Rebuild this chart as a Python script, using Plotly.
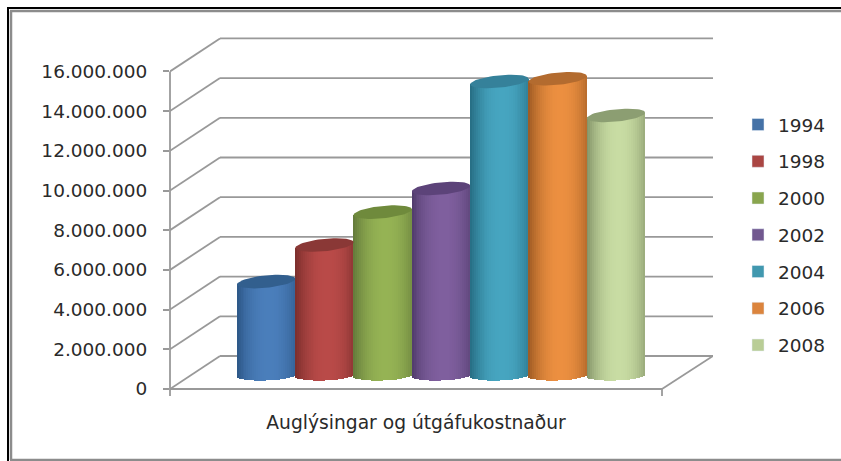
import plotly.graph_objects as go
import math

# ---- data ----
years = ["1994", "1998", "2000", "2002", "2004", "2006", "2008"]
values = [4580000, 6420000, 8080000, 9270000, 14660000, 14800000, 12950000]
tick_values = [0, 2000000, 4000000, 6000000, 8000000, 10000000, 12000000, 14000000, 16000000]
tick_labels = ["0", "2.000.000", "4.000.000", "6.000.000", "8.000.000", "10.000.000",
               "12.000.000", "14.000.000", "16.000.000"]
category = "Auglýsingar og útgáfukostnaður"

# ---- style ----
legend_colors = ["#4572A7", "#AA4643", "#89A54E", "#71588F", "#4198AF", "#DB843D", "#B9CD96"]
center_colors = ["#4A7EBB", "#B94A48", "#95B354", "#7F5F9E", "#46A5C0", "#EC8F40", "#C8DCA3"]
edge_colors = ["#2C5686", "#7A2E2C", "#63793A", "#503B6C", "#266C82", "#9A5822", "#7F8F64"]
top_colors = ["#325F8E", "#8A3836", "#6F8A3C", "#5C4379", "#35819A", "#B36B2F", "#8C9E72"]
grid = "#999999"
text_col = "#2A2A2A"
W, H = 841, 461
PX_M = 19.85 / 1e6          # pixels per value unit
Y0 = 389                    # pixel row of value 0, front plane
SLOT = 58.3                 # pixels per cylinder
C0 = 266.15                 # pixel column of first cylinder centre
X_L, X_F, X_R = 170, 662, 713
DEPTH_X, DEPTH_Y = 50, 33
DOM_TOP, DOM_BOT = 36, 400
TILT = 2.8                  # pixels the top ellipse rises towards its right end
TOP_B = 6.2                 # half height of the top ellipse, pixels


def px2x(p):
    return (p - C0) / SLOT


def hex2rgb(c):
    return [int(c[i:i + 2], 16) for i in (1, 3, 5)]


def mix(a, b, s):
    ra, rb = hex2rgb(a), hex2rgb(b)
    return "rgb(%d,%d,%d)" % tuple(round(ra[k] + (rb[k] - ra[k]) * s) for k in range(3))


fig = go.Figure()
N = 30
mid_value = DEPTH_Y / 2 / PX_M
for i, (yr, v) in enumerate(zip(years, values)):
    xs, bases, heights, cols = [], [], [], []
    for k in range(N):
        t = -1 + (k + 0.5) * 2 / N
        bottom_px = 3 + 5 * math.sqrt(1 - t * t) - 1 * t      # below the base centre
        top_px = TILT * t                                     # tilt of the top, right side higher
        b = mid_value - bottom_px / PX_M
        tp = v + mid_value + top_px / PX_M
        xs.append(i + t / 2)
        bases.append(b)
        heights.append(tp - b)
        s = 1 - min(1, abs(t - 0.1) / 1.1) ** 2.2
        cols.append(mix(edge_colors[i], center_colors[i], s))
    fig.add_trace(go.Bar(x=[None], y=[None], name=yr, marker_color=legend_colors[i],
                         legendgroup=yr))
    fig.add_trace(go.Bar(x=xs, y=heights, base=bases, width=[1.3 / N] * N,
                         marker=dict(color=cols, line_width=0), showlegend=False, legendgroup=yr,
                         hoverinfo="skip"))
    ex, ey = [], []
    for k in range(61):
        a = 2 * math.pi * k / 60
        ct, st = math.cos(a), math.sin(a)
        ex.append(i + ct / 2)
        ey.append(v + mid_value + (TOP_B * st + TILT * ct) / PX_M)
    fig.add_trace(go.Scatter(x=ex, y=ey, mode="lines", fill="toself", fillcolor=top_colors[i],
                             line=dict(width=0, color=top_colors[i]), showlegend=False,
                             legendgroup=yr, hoverinfo="skip"))

shapes = []
gl = dict(color=grid, width=1.8)
xl, xf, xr = px2x(X_L), px2x(X_F), px2x(X_R)
xb = px2x(X_L + DEPTH_X)
dv = DEPTH_Y / PX_M
for tv in tick_values:
    shapes.append(dict(type="line", x0=xl, x1=xb, y0=tv, y1=tv + dv, line=gl, layer="below"))
    shapes.append(dict(type="line", x0=xb, x1=xr, y0=tv + dv, y1=tv + dv, line=gl, layer="below"))
# floor
shapes.append(dict(type="line", x0=xl, x1=xf, y0=0, y1=0, line=gl, layer="below"))
shapes.append(dict(type="line", x0=xf, x1=xr, y0=0, y1=dv, line=gl, layer="below"))
# value axis and category ticks
dom_y = [1 - DOM_BOT / H, 1 - DOM_TOP / H]
dom_x = [X_L / W, X_R / W]
shapes.append(dict(type="line", xref="paper", yref="y", x0=dom_x[0], x1=dom_x[0],
                   y0=0, y1=tick_values[-1], line=gl, layer="below"))
for px in (X_L, X_F):
    shapes.append(dict(type="line", xref="paper", yref="paper", x0=px / W, x1=px / W,
                       y0=1 - Y0 / H, y1=1 - 396 / H, line=gl, layer="below"))


# outer frame
def frame(x0, y0, x1, y1, color, width):
    return dict(type="line", xref="paper", yref="paper", x0=x0 / W, x1=x1 / W,
                y0=1 - y0 / H, y1=1 - y1 / H, line=dict(color=color, width=width))


shapes += [
    frame(7, 8, 841, 8, "#000000", 2),
    frame(8, 8, 8, 461, "#000000", 2),
    frame(10, 11, 841, 11, "#8C8C8C", 2.5),
    frame(11, 11, 11, 460, "#8C8C8C", 2.5),
    frame(10, 460, 841, 460, "#8C8C8C", 2.5),
]

fig.update_layout(
    width=W, height=H, autosize=False,
    margin=dict(l=0, r=0, t=0, b=0, pad=0),
    paper_bgcolor="white", plot_bgcolor="rgba(0,0,0,0)",
    barmode="overlay", bargap=0, shapes=shapes,
    font=dict(family="DejaVu Sans", color=text_col, size=18.5),
    xaxis=dict(domain=dom_x, range=[px2x(X_L), px2x(X_R)], showgrid=False, zeroline=False,
               showline=False, ticks="", tickmode="array", tickvals=[px2x((X_L + X_F) / 2)],
               ticktext=[category], tickfont=dict(size=18.7), ticklabelstandoff=9),
    yaxis=dict(domain=dom_y, range=[(Y0 - DOM_BOT) / 19.85 * 1e6, (Y0 - DOM_TOP) / 19.85 * 1e6],
               showgrid=False, zeroline=False, showline=False, ticks="outside", ticklen=6,
               tickwidth=1.8, tickcolor=grid, tickmode="array", tickvals=tick_values,
               ticktext=tick_labels, tickfont=dict(size=18.5), ticklabelstandoff=12),
    legend=dict(x=738 / W, y=1 - 106 / H, xanchor="left", yanchor="top", tracegroupgap=9.7,
                bgcolor="rgba(0,0,0,0)", font=dict(size=18.5)),
    showlegend=True,
)
fig.write_html("out.html", config={"displayModeBar": False},
               post_script="document.body.style.margin='0';")
